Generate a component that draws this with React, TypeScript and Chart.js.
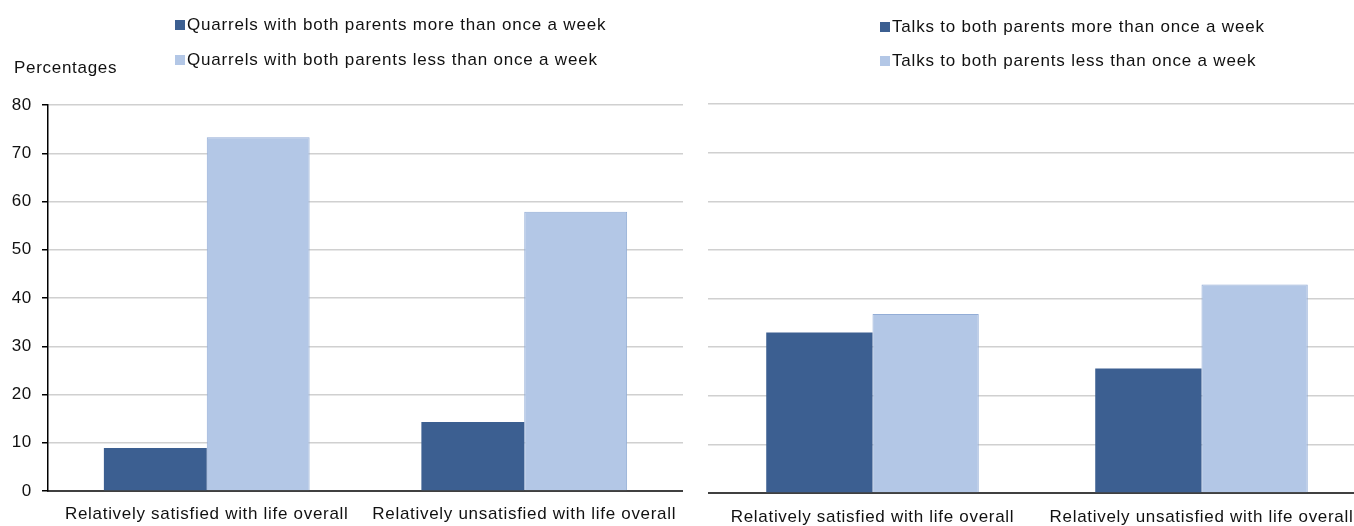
import React, { useEffect, useRef } from "react";
import { Chart, registerables } from "chart.js";

Chart.register(...registerables);

const categories = ["Relatively satisfied with life overall", "Relatively unsatisfied with life overall"];
const quarrelsMore = [8.9, 14.3];
const quarrelsLess = [73.3, 57.9];
const talksMore = [33.0, 25.6];
const talksLess = [36.8, 42.9];
const leftLegend = ["Quarrels with both parents more than once a week", "Quarrels with both parents less than once a week"];
const rightLegend = ["Talks to both parents more than once a week", "Talks to both parents less than once a week"];
const yTicks = [0, 10, 20, 30, 40, 50, 60, 70, 80];

const DARK = "#3C5F91";
const LIGHT = "#B3C7E6";
const LIGHT_BORDER = "#93ADD6";
const FONT = "'Liberation Sans', Arial, sans-serif";

const spacingPlugin = {
  id: "spacing",
  beforeDraw: (chart: any) => { chart.ctx.letterSpacing = "0.7px"; },
  afterDraw: (chart: any) => { chart.ctx.letterSpacing = "0px"; },
};

function makeChart(canvas: HTMLCanvasElement, more: number[], less: number[], labels: string[], left: boolean, padTop: number, xHeight: number) {
  const cp = left ? 0.648 : 0.646;
  return new Chart(canvas, {
    type: "bar",
    data: {
      labels: categories,
      datasets: [
        { label: labels[0], data: more, backgroundColor: DARK, borderColor: DARK, borderWidth: 0, categoryPercentage: cp, barPercentage: 1 },
        { label: labels[1], data: less, backgroundColor: LIGHT, borderColor: LIGHT_BORDER, borderWidth: 1, categoryPercentage: cp, barPercentage: 1 },
      ],
    },
    plugins: [spacingPlugin],
    options: {
      responsive: false,
      animation: false,
      layout: { padding: { top: padTop, left: 0, right: 0, bottom: 0 } },
      plugins: { legend: { display: false }, tooltip: { enabled: false } },
      scales: {
        x: {
          grid: { display: false, drawTicks: false },
          border: { display: true, color: "#404040", width: 2 },
          ticks: { color: "#111", font: { family: FONT, size: 17 }, padding: left ? 13 : 14, maxRotation: 0, autoSkip: false },
          afterFit: (s: any) => { s.height = xHeight; },
        },
        y: {
          min: 0,
          max: 80,
          afterBuildTicks: (s: any) => { s.ticks = yTicks.map((v) => ({ value: v })); },
          grid: {
            color: (ctx: any) => (ctx.tick && ctx.tick.value === 0 ? "rgba(0,0,0,0)" : "#D0D0D0"),
            lineWidth: 1.5,
            drawTicks: left,
            tickLength: 6,
            tickColor: "#000",
          },
          border: { display: left, color: "#000", width: 1.5 },
          ticks: { display: left, color: "#111", font: { family: FONT, size: 17 }, padding: 10 },
          afterFit: (s: any) => { s.width = left ? 48 : 0; },
        },
      },
    },
  });
}

function Legend({ items, x, ys }: { items: string[]; x: number; ys: number[] }) {
  return (
    <>
      {items.map((t, i) => (
        <div key={t} style={{ position: "absolute", left: x, top: ys[i] - 10, height: 20, display: "flex", alignItems: "center", font: `17px ${FONT}`, letterSpacing: "0.8px", color: "#111", whiteSpace: "nowrap" }}>
          <span style={{ display: "inline-block", width: 10, height: 10, background: i === 0 ? DARK : LIGHT, marginRight: 2 }} />
          {t}
        </div>
      ))}
    </>
  );
}

export default function App() {
  const leftRef = useRef<HTMLCanvasElement>(null);
  const rightRef = useRef<HTMLCanvasElement>(null);
  useEffect(() => {
    document.body.style.margin = "0";
    const a = makeChart(leftRef.current!, quarrelsMore, quarrelsLess, leftLegend, true, 105, 35);
    const b = makeChart(rightRef.current!, talksMore, talksLess, rightLegend, false, 104, 33);
    return () => { a.destroy(); b.destroy(); };
  }, []);
  return (
    <div style={{ position: "relative", width: 1354, height: 526, background: "#fff", overflow: "hidden" }}>
      <canvas ref={leftRef} width={683} height={526} style={{ position: "absolute", left: 0, top: 0, width: 683, height: 526 }} />
      <canvas ref={rightRef} width={658} height={526} style={{ position: "absolute", left: 708, top: 0, width: 658, height: 526 }} />
      <div style={{ position: "absolute", left: 14, top: 58, font: `17px ${FONT}`, letterSpacing: "0.7px", color: "#111" }}>Percentages</div>
      <Legend items={leftLegend} x={175} ys={[25, 60]} />
      <Legend items={rightLegend} x={880} ys={[27, 61]} />
    </div>
  );
}
